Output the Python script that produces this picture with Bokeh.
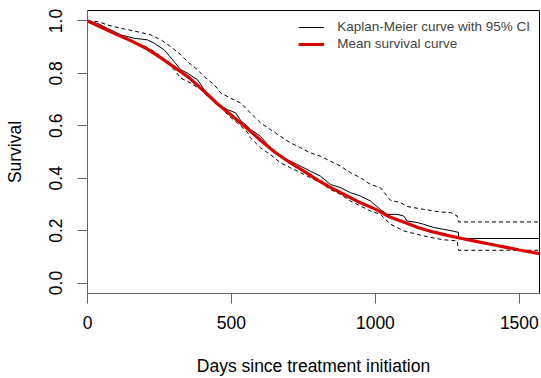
from bokeh.plotting import figure
from bokeh.models import Range1d, FixedTicker, Legend, LegendItem, NumeralTickFormatter
from bokeh.embed import file_html
from bokeh.resources import INLINE

# Kaplan-Meier estimate
km_time = [0, 35, 69, 116, 162, 208, 232, 266, 301, 324, 347, 382, 405, 463, 486, 515, 532,
           556, 566, 601, 635, 670, 705, 740, 774, 809, 844, 879, 913, 948, 983, 1017, 1041,
           1075, 1098, 1110, 1145, 1168, 1202, 1237, 1266, 1289, 1289, 1570]
km_surv = [1.0, 0.991, 0.972, 0.947, 0.934, 0.928, 0.915, 0.890, 0.845, 0.814, 0.801, 0.776,
           0.738, 0.674, 0.662, 0.649, 0.620, 0.598, 0.586, 0.560, 0.516, 0.484, 0.465, 0.446,
           0.427, 0.408, 0.376, 0.364, 0.345, 0.332, 0.313, 0.281, 0.262, 0.262, 0.256, 0.237,
           0.231, 0.224, 0.212, 0.205, 0.199, 0.193, 0.170, 0.170]

# Upper 95% CI
up_time = [0, 35, 69, 116, 174, 220, 255, 289, 324, 347, 382, 405, 440, 463, 498, 532, 566,
           601, 635, 670, 705, 740, 774, 809, 844, 879, 913, 948, 983, 1017, 1052, 1087, 1110,
           1168, 1226, 1261, 1284, 1289, 1570]
up_surv = [1.0, 0.998, 0.985, 0.972, 0.959, 0.947, 0.928, 0.902, 0.871, 0.845, 0.814, 0.788,
           0.757, 0.725, 0.705, 0.687, 0.649, 0.611, 0.586, 0.560, 0.535, 0.516, 0.497, 0.484,
           0.465, 0.446, 0.421, 0.402, 0.376, 0.364, 0.316, 0.307, 0.292, 0.281, 0.271, 0.269,
           0.256, 0.233, 0.233]

# Lower 95% CI
lo_time = [0, 35, 58, 93, 139, 185, 232, 278, 301, 324, 359, 394, 417, 451, 486, 521, 556,
           566, 601, 635, 670, 705, 740, 774, 809, 844, 879, 913, 948, 983, 1017, 1052, 1098,
           1145, 1191, 1237, 1284, 1289, 1570]
lo_surv = [1.0, 0.985, 0.966, 0.953, 0.934, 0.909, 0.884, 0.845, 0.814, 0.782, 0.763, 0.738,
           0.712, 0.687, 0.643, 0.610, 0.575, 0.554, 0.516, 0.490, 0.459, 0.440, 0.421, 0.402,
           0.383, 0.357, 0.338, 0.313, 0.294, 0.275, 0.262, 0.225, 0.199, 0.186, 0.174, 0.165,
           0.161, 0.125, 0.125]

# Mean survival curve
mean_time = [0, 50, 100, 150, 200, 250, 300, 350, 400, 450, 500, 550, 600, 650, 700, 750, 800,
             850, 900, 950, 1000, 1050, 1100, 1150, 1200, 1250, 1300, 1350, 1400, 1450, 1500, 1570]
mean_surv = [1.0, 0.975, 0.949, 0.925, 0.898, 0.863, 0.825, 0.786, 0.737, 0.685, 0.640, 0.594,
             0.546, 0.500, 0.462, 0.428, 0.393, 0.361, 0.333, 0.305, 0.282, 0.252, 0.232, 0.211,
             0.195, 0.182, 0.170, 0.159, 0.148, 0.137, 0.126, 0.112]

x_ticks = [0, 500, 1000, 1500]
y_ticks = [0.0, 0.2, 0.4, 0.6, 0.8, 1.0]

FONT = "Liberation Sans"
AXC = "#666666"

p = figure(width=541, height=378, output_backend="svg", toolbar_location=None,
           x_range=Range1d(0, 1570), y_range=Range1d(-0.04, 1.04),
           min_border_left=87, min_border_right=2, min_border_top=10, min_border_bottom=83,
           x_axis_label="Days since treatment initiation", y_axis_label="Survival")

p.xgrid.visible = False
p.ygrid.visible = False
p.outline_line_color = "black"
p.outline_line_alpha = 1.0
p.outline_line_width = 1

for ax in (p.xaxis[0], p.yaxis[0]):
    ax.axis_line_color = AXC
    ax.major_tick_line_color = AXC
    ax.major_tick_out = 10
    ax.major_tick_in = 0
    ax.minor_tick_line_color = None
    ax.major_label_text_font = FONT
    ax.major_label_text_font_size = "17.5px"
    ax.major_label_text_color = "black"
    ax.axis_label_text_font = FONT
    ax.axis_label_text_font_size = "17.5px"
    ax.axis_label_text_font_style = "normal"
    ax.axis_label_text_color = "black"

p.xaxis.ticker = FixedTicker(ticks=x_ticks)
p.yaxis.ticker = FixedTicker(ticks=y_ticks)
p.yaxis.formatter = NumeralTickFormatter(format="0.0")
p.yaxis.major_label_orientation = "vertical"
p.yaxis.major_label_standoff = 15
p.yaxis.axis_label_standoff = 22
p.xaxis.major_label_standoff = 12
p.xaxis.axis_label_standoff = 24

r_km = p.line(km_time, km_surv, line_color="black", line_width=1)
p.line(up_time, up_surv, line_color="black", line_width=1, line_dash="4 3")
p.line(lo_time, lo_surv, line_color="black", line_width=1, line_dash="4 3")
r_mean = p.line(mean_time, mean_surv, line_color="#DD0000", line_width=3.2)

legend = Legend(items=[LegendItem(label="Kaplan-Meier curve with 95% CI", renderers=[r_km]),
                       LegendItem(label="Mean survival curve", renderers=[r_mean])],
                location="top_right")
legend.border_line_color = None
legend.background_fill_alpha = 0
legend.label_text_font = FONT
legend.label_text_font_size = "13.5px"
legend.glyph_width = 26
legend.glyph_height = 14
legend.label_height = 14
legend.spacing = 2
legend.label_standoff = 13
legend.margin = 9
legend.padding = 8
p.add_layout(legend)

open("out.html", "w").write(file_html(p, INLINE))
